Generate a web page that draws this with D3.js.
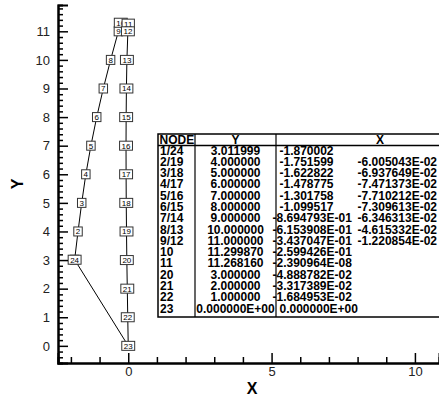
<!DOCTYPE html>
<html>
<head>
<meta charset="utf-8">
<script src="https://cdn.jsdelivr.net/npm/d3@7"></script>
<style>
  body { margin: 0; background: #fff; }
  svg { display: block; font-family: "Liberation Sans", Arial, sans-serif; }
</style>
</head>
<body>
<svg id="svg" width="439" height="396"></svg>
<script>

var nodeIds = [1, 2, 3, 4, 5, 6, 7, 8, 9, 10, 11, 12, 13, 14, 15, 16, 17, 18, 19, 20, 21, 22, 23, 24];
var nodeX = [-1.870002, -1.751599, -1.622822, -1.478775, -1.301758, -1.099517, -0.8694793, -0.6153908,
             -0.3437047, -0.2599426, -2.390964e-08, -0.01220854, -0.04615332, -0.06346313, -0.07309613,
             -0.07710212, -0.07471373, -0.06937649, -0.06005043, -0.04888782, -0.03317389, -0.01684953,
             0, -1.870002];
var nodeY = [3.011999, 4, 5, 6, 7, 8, 9, 10, 11, 11.29987, 11.26816, 11, 10, 9, 8, 7, 6, 5, 4, 3, 2, 1, 0, 3.011999];

// table text
var tableHead = ["NODE", "Y", "X"];
var tableNode = ["1/24", "2/19", "3/18", "4/17", "5/16", "6/15", "7/14", "8/13", "9/12", "10", "11", "20", "21", "22", "23"];
var tableY = ["3.011999", "4.000000", "5.000000", "6.000000", "7.000000", "8.000000", "9.000000", "10.000000",
              "11.000000", "11.299870", "11.268160", "3.000000", "2.000000", "1.000000", "0.000000E+00"];
var tableX1 = ["-1.870002", "-1.751599", "-1.622822", "-1.478775", "-1.301758", "-1.099517", "-8.694793E-01",
               "-6.153908E-01", "-3.437047E-01", "-2.599426E-01", "-2.390964E-08", "-4.888782E-02",
               "-3.317389E-02", "-1.684953E-02", "0.000000E+00"];
var tableX2 = ["", "-6.005043E-02", "-6.937649E-02", "-7.471373E-02", "-7.710212E-02", "-7.309613E-02",
               "-6.346313E-02", "-4.615332E-02", "-1.220854E-02", "", "", "", "", "", ""];

var xMajor = [0, 5, 10];
var xMinor = [-2, -1, 1, 2, 3, 4, 6, 7, 8, 9];
var yMajor = [0, 1, 2, 3, 4, 5, 6, 7, 8, 9, 10, 11];

var svg = d3.select("#svg");

var xScale = d3.scaleLinear().domain([-2.45, 10.84]).range([58, 439]);
var yScale = d3.scaleLinear().domain([-0.6, 11.92]).range([363, 5]);

var yMinor = d3.range(-0.4, 11.85, 0.2).map(function (d) { return Math.round(d * 10) / 10; })
    .filter(function (d) { return yMajor.indexOf(d) < 0; });

// element outline
var order = [23, 1, 2, 3, 4, 5, 6, 7, 8, 9, 10, 11, 12, 13, 14, 15, 16, 17, 18, 19, 20, 21, 22, 23];
var line = d3.line()
    .x(function (i) { return xScale(nodeX[i]); })
    .y(function (i) { return yScale(nodeY[i]); });
svg.append("path")
    .attr("d", line(order))
    .attr("fill", "none")
    .attr("stroke", "#000")
    .attr("stroke-width", 1);

// node label boxes
var lbl = svg.append("g").selectAll("g")
    .data(nodeIds)
    .enter().append("g")
    .attr("transform", function (d, i) {
        return "translate(" + xScale(nodeX[i]) + "," + yScale(nodeY[i]) + ")";
    });
lbl.append("rect");
lbl.append("text")
    .attr("text-anchor", "middle")
    .attr("dy", "0.36em")
    .attr("font-size", "8px")
    .attr("fill", "#000")
    .text(function (d) { return d; });
lbl.each(function () {
    var g = d3.select(this);
    var w = g.select("text").node().getComputedTextLength() + 4;
    g.select("rect")
        .attr("x", -w / 2).attr("y", -4.5)
        .attr("width", w).attr("height", 9)
        .attr("fill", "#fff")
        .attr("stroke", "#333")
        .attr("stroke-width", 1);
});

// axes
svg.append("g")
    .attr("transform", "translate(0,363)")
    .call(d3.axisBottom(xScale).tickValues(xMinor).tickSize(-6).tickFormat(""));
svg.append("g")
    .attr("transform", "translate(0,363)")
    .call(d3.axisBottom(xScale).tickValues(xMajor).tickSize(-10).tickPadding(4).tickFormat(d3.format("d")));

svg.append("g")
    .attr("transform", "translate(58,0)")
    .call(d3.axisLeft(yScale).tickValues(yMinor).tickSize(-5).tickFormat(""));
svg.append("g")
    .attr("transform", "translate(58,0)")
    .call(d3.axisLeft(yScale).tickValues(yMajor).tickSize(-10).tickPadding(8).tickFormat(d3.format("d")));

svg.selectAll(".domain").attr("stroke-width", 2).attr("stroke", "#000");
svg.selectAll(".tick line").attr("stroke-width", 1.5).attr("stroke", "#000");
svg.selectAll(".tick text").attr("font-size", "13px").attr("fill", "#222")
    .attr("font-family", "Liberation Sans, Arial, sans-serif");

svg.append("text")
    .attr("x", 252).attr("y", 394)
    .attr("text-anchor", "middle")
    .attr("font-size", "16px").attr("font-weight", "bold")
    .text("X");
svg.append("text")
    .attr("transform", "translate(23,184) rotate(-90)")
    .attr("text-anchor", "middle")
    .attr("font-size", "16px").attr("font-weight", "bold")
    .text("Y");

// table
var tbl = svg.append("g").attr("font-weight", "bold").attr("font-size", "12px");
var top0 = 134, headB = 145.5, bottom = 317, rowH = 11.29;
tbl.append("rect")
    .attr("x", 158).attr("y", top0).attr("width", 330).attr("height", bottom - top0)
    .attr("fill", "#fff").attr("stroke", "#000").attr("stroke-width", 1.5);
tbl.append("line").attr("x1", 158).attr("x2", 439).attr("y1", headB).attr("y2", headB)
    .attr("stroke", "#000").attr("stroke-width", 1.5);
[195, 276].forEach(function (x) {
    tbl.append("line").attr("x1", x).attr("x2", x).attr("y1", top0).attr("y2", bottom)
        .attr("stroke", "#000").attr("stroke-width", 1.2);
});
tbl.append("text").attr("x", 159.5).attr("y", 144).text(tableHead[0]);
tbl.append("text").attr("x", 235.5).attr("y", 144).attr("text-anchor", "middle").text(tableHead[1]);
tbl.append("text").attr("x", 380).attr("y", 144).attr("text-anchor", "middle").text(tableHead[2]);

tableNode.forEach(function (s, i) {
    var yb = 154.5 + i * rowH;
    var x1 = tableX1[i];
    var x1Pos = (x1.charAt(0) === "-" && x1.indexOf("E") > 0) ? 272.5 : 279.5;
    tbl.append("text").attr("x", 160).attr("y", yb).text(s);
    tbl.append("text").attr("x", 235.5).attr("y", yb).attr("text-anchor", "middle").text(tableY[i]);
    tbl.append("text").attr("x", x1Pos).attr("y", yb).text(x1);
    if (tableX2[i]) tbl.append("text").attr("x", 437).attr("y", yb).attr("text-anchor", "end").text(tableX2[i]);
});

</script>
</body>
</html>
